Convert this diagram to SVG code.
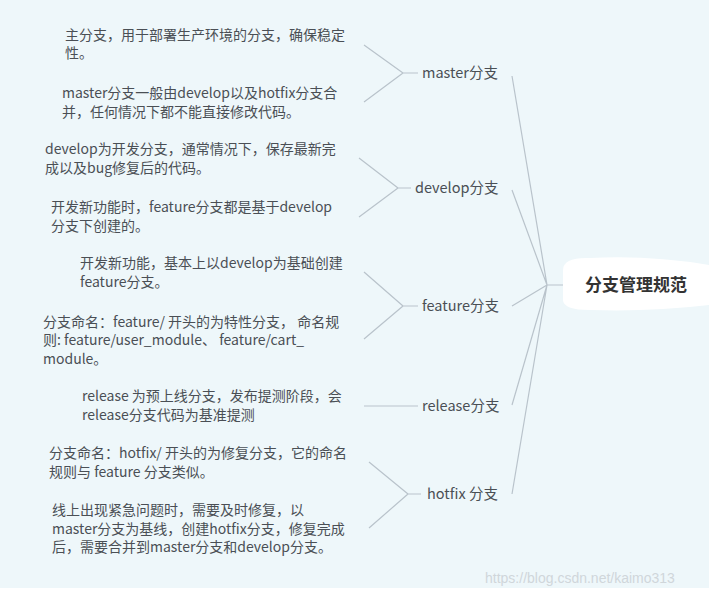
<svg xmlns="http://www.w3.org/2000/svg" width="709" height="597" viewBox="0 0 709 597">
<style>
text{font-family:"Noto Sans CJK SC","Noto Sans",sans-serif;fill:#4a4f55;font-size:14px}
.b{font-size:14.5px}
.c{stroke:#b9c3cb;stroke-width:1.2;fill:none}
</style>
<rect width="709" height="597" fill="#eef7fa"/>
<rect x="0" y="588" width="709" height="9" fill="#fff"/>
<g id="connectors">
<path class="c" d="M547 285H563M547 285L512 76M547 285L512 190M547 285L512 306M547 285L512 405M547 285L512 494"/>
<path class="c" d="M403 73H418M403 73L364 45M403 73L364 102"/>
<path class="c" d="M398 188H411M398 188L359 158M398 188L359 217"/>
<path class="c" d="M403 306H418M403 306L364 272M403 306L364 339"/>
<path class="c" d="M364 406H418"/>
<path class="c" d="M408 494H421M408 494L369 462M408 494L369 528"/>
</g>
<g id="root"><path d="M563 270Q563 257 590 258Q650 255 709 265V305Q650 312 590 310Q563 310 563 300Z" fill="#fff"/>
<text x="636" y="291" text-anchor="middle" style="font-size:17px;font-weight:bold;fill:#333">分支管理规范</text></g>
<g id="master"><text class="b" x="422" y="78">master分支</text>
<text x="65" y="40">主分支，用于部署生产环境的分支，确保稳定</text><text x="65" y="58">性。</text>
<text x="62" y="98">master分支一般由develop以及hotfix分支合</text><text x="62" y="117">并，任何情况下都不能直接修改代码。</text></g>
<g id="develop"><text class="b" x="415" y="193">develop分支</text>
<text x="45" y="154">develop为开发分支，通常情况下，保存最新完</text><text x="45" y="173">成以及bug修复后的代码。</text>
<text x="51" y="212">开发新功能时，feature分支都是基于develop</text><text x="51" y="231">分支下创建的。</text></g>
<g id="feature"><text class="b" x="422" y="311">feature分支</text>
<text x="80" y="268">开发新功能，基本上以develop为基础创建</text><text x="80" y="287">feature分支。</text>
<text x="43" y="327">分支命名：feature/ 开头的为特性分支， 命名规</text><text x="43" y="345">则: feature/user_module、 feature/cart_</text><text x="43" y="364">module。</text></g>
<g id="release"><text class="b" x="422" y="411">release分支</text>
<text x="82" y="401">release 为预上线分支，发布提测阶段，会</text><text x="82" y="420">release分支代码为基准提测</text></g>
<g id="hotfix"><text class="b" x="427" y="499">hotfix 分支</text>
<text x="49" y="458">分支命名：hotfix/ 开头的为修复分支，它的命名</text><text x="49" y="477">规则与 feature 分支类似。</text>
<text x="52" y="515">线上出现紧急问题时，需要及时修复，以</text><text x="52" y="534">master分支为基线，创建hotfix分支，修复完成</text><text x="52" y="552">后，需要合并到master分支和develop分支。</text></g>
<text x="485" y="583" style="font-family:'Liberation Sans',sans-serif;fill:#d0d6da;font-size:14px">https://blog.csdn.net/kaimo313</text>
</svg>
